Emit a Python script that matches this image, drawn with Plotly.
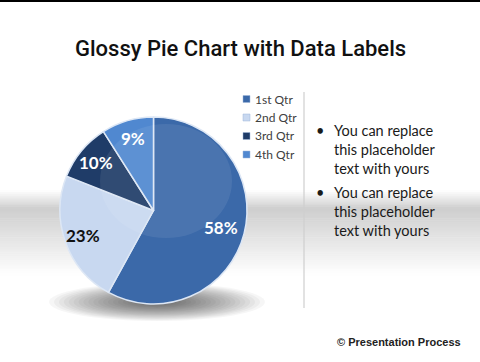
import math
import plotly.graph_objects as go

# ---- data ----
categories = ["1st Qtr", "2nd Qtr", "3rd Qtr", "4th Qtr"]
values = [58, 23, 10, 9]
slice_colors = ["#3b69a9", "#c8d8f0", "#1f3c68", "#5088d0"]
label_colors = ["white", "#111111", "white", "white"]
title_text = "Glossy Pie Chart with Data Labels"
bullets = ["You can replace<br>this placeholder<br>text with yours",
           "You can replace<br>this placeholder<br>text with yours"]
footer = "© Presentation Process"

W, H = 480, 362
PCX, PCY, PR = 153.5, 210.5, 93.5  # pie centre / radius in px

fig = go.Figure()
fig.add_trace(go.Pie(
    labels=categories, values=values, sort=False, direction="clockwise",
    rotation=0,
    marker=dict(colors=slice_colors, line=dict(color="#dde7f5", width=1.5)),
    textinfo="none",
    domain=dict(x=[(PCX - PR) / W, (PCX + PR) / W],
                y=[1 - (PCY + PR) / H, 1 - (PCY - PR) / H]),
    showlegend=False, hoverinfo="label+percent",
))

shapes = []
annotations = []
# top rule
shapes.append(dict(type="rect", xref="paper", yref="paper", x0=0, x1=1,
                   y0=1 - 2 / H, y1=1, fillcolor="black", line_width=0, layer="below"))
# grey band (stepped gradient)
def band_color(t):
    p = 0.22
    if t < p:
        g = 255 - (255 - 206) * (t / p)
    else:
        g = 206 + (255 - 206) * ((t - p) / (1 - p))
    g = int(round(g))
    return f"rgb({g},{g},{g})"
top, bot, n = 190, 275, 45
for i in range(n):
    y0 = top + (bot - top) * i / n
    y1 = top + (bot - top) * (i + 1) / n + 0.5
    shapes.append(dict(type="rect", xref="paper", yref="paper", x0=0, x1=1,
                       y0=1 - y1 / H, y1=1 - y0 / H,
                       fillcolor=band_color((i + 0.5) / n), line_width=0, layer="below"))
# soft shadow under pie
cx, cy = 157, 302
steps = 22
for k in range(steps):
    f = 1 - k / steps
    rx, ry = 108 * f, 19 * f
    shapes.append(dict(type="circle", xref="paper", yref="paper",
                       x0=(cx - rx) / W, x1=(cx + rx) / W,
                       y0=1 - (cy + ry) / H, y1=1 - (cy - ry) / H,
                       fillcolor="black", opacity=0.035, line_width=0, layer="below"))
# separator line
shapes.append(dict(type="line", xref="paper", yref="paper", x0=304 / W, x1=304 / W,
                   y0=1 - 308 / H, y1=1 - 92 / H, line=dict(color="#cfcfcf", width=1.2)))
# glossy highlight
shapes.append(dict(type="circle", xref="paper", yref="paper",
                   x0=100 / W, x1=232 / W, y0=1 - 238 / H, y1=1 - 124 / H,
                   fillcolor="white", opacity=0.08, line_width=0, layer="above"))

# data labels, placed along each slice's mid-angle
total = sum(values)
cum = 0
for v, col in zip(values, label_colors):
    mid = (cum + v / 2) / total * 2 * math.pi
    cum += v
    fr = 0.75 if v / total > 0.5 else 0.8
    lx = PCX + PR * fr * math.sin(mid)
    ly = PCY - PR * fr * math.cos(mid)
    annotations.append(dict(text=f"<b>{round(v / total * 100)}%</b>", x=lx / W, y=1 - ly / H,
                            xref="paper", yref="paper", showarrow=False,
                            xanchor="center", yanchor="middle",
                            font=dict(family="Lato, Open Sans, sans-serif", size=17, color=col)))

# legend (manual)
for i, (c, col) in enumerate(zip(categories, slice_colors)):
    yc = 99 + i * 18.5
    shapes.append(dict(type="rect", xref="paper", yref="paper",
                       x0=243 / W, x1=250 / W, y0=1 - (yc + 3.5) / H, y1=1 - (yc - 3.5) / H,
                       fillcolor=col, line=dict(color="#9fb6d8", width=0.5)))
    annotations.append(dict(text=c, x=253 / W, y=1 - yc / H, xref="paper", yref="paper",
                            showarrow=False, xanchor="left", yanchor="middle",
                            font=dict(family="Lato, Open Sans, sans-serif", size=12, color="#404040")))

annotations.append(dict(text=title_text, x=240 / W, y=1 - 48 / H, xref="paper", yref="paper",
                        showarrow=False, xanchor="center", yanchor="middle",
                        font=dict(family="Roboto, sans-serif", size=22, weight=500, color="#111111")))
for i, b in enumerate(bullets):
    ytop = 120 + i * 62
    annotations.append(dict(text=b, x=332 / W, y=1 - ytop / H, xref="paper", yref="paper",
                            showarrow=False, xanchor="left", yanchor="top", align="left",
                            font=dict(family="Lato, Open Sans, sans-serif", size=14.5, color="#1a1a1a")))
    annotations.append(dict(text="•", x=320 / W, y=1 - ytop / H, xref="paper", yref="paper",
                            showarrow=False, xanchor="center", yanchor="top",
                            font=dict(family="Lato, sans-serif", size=14.5, color="#1a1a1a")))
annotations.append(dict(text="<b>" + footer + "</b>", x=463 / W, y=1 - 342 / H,
                        xref="paper", yref="paper", showarrow=False,
                        xanchor="right", yanchor="middle",
                        font=dict(family="Liberation Sans, Arial, sans-serif", size=11, color="#222222")))

fig.update_layout(
    width=W, height=H, margin=dict(l=0, r=0, t=0, b=0),
    paper_bgcolor="white", plot_bgcolor="white",
    shapes=shapes, annotations=annotations, showlegend=False,
)
fig.write_html("out.html", config={"displayModeBar": False},
               post_script="document.body.style.margin='0';")
